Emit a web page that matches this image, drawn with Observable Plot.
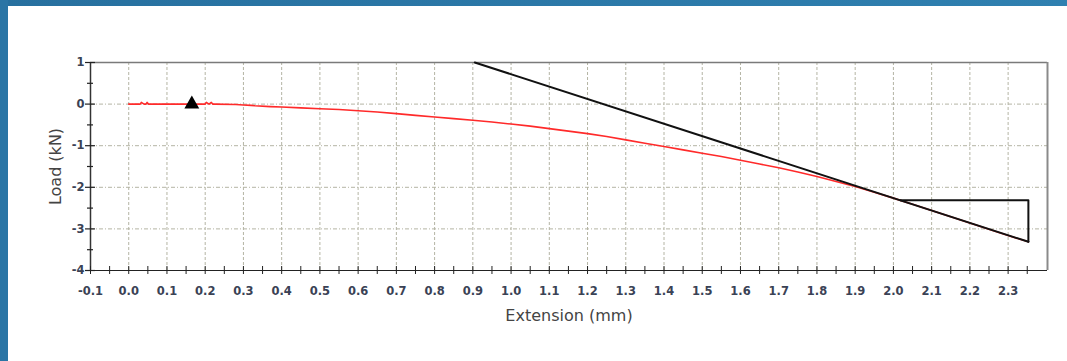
<!DOCTYPE html>
<html>
<head>
<meta charset="utf-8">
<script src="https://cdn.jsdelivr.net/npm/d3@7"></script>
<script src="https://cdn.jsdelivr.net/npm/@observablehq/plot@0.6"></script>
<style>
  html, body { margin: 0; padding: 0; background: #fff; }
  #wrap { position: relative; width: 1067px; height: 361px; overflow: hidden; background: #fff; }
  #topbar { position: absolute; left: 0; top: 0; width: 1067px; height: 6px; background: linear-gradient(90deg, #27709f, #2f80b0); }
  #leftbar { position: absolute; left: 0; top: 0; width: 8px; height: 361px; background: #2a75a5; }
  #chart { position: absolute; left: 0; top: 0; }
</style>
</head>
<body>
<div id="wrap">
  <div id="chart"></div>
  <div id="topbar"></div>
  <div id="leftbar"></div>
</div>
<script>
// Measured curve: extension (mm) vs load (kN)
const extension = [0, 0.03, 0.033, 0.04, 0.045, 0.048, 0.052, 0.1, 0.15, 0.2, 0.203, 0.21, 0.216, 0.22, 0.225, 0.28, 0.3, 0.32, 0.33, 0.37, 0.4, 0.45, 0.5, 0.55, 0.6, 0.65, 0.7, 0.75, 0.8, 0.85, 0.9, 0.95, 1.0, 1.05, 1.1, 1.15, 1.2, 1.25, 1.3, 1.35, 1.4, 1.45, 1.5, 1.55, 1.6, 1.65, 1.7, 1.75, 1.8, 1.85, 1.9, 1.95, 2.0, 2.05, 2.1, 2.15, 2.2, 2.25, 2.3, 2.353];
const load = [0, 0, 0.04, 0, 0, 0.04, 0, 0, 0, 0, 0.04, 0, 0.04, 0, 0, -0.01, -0.02, -0.03, -0.04, -0.06, -0.07, -0.09, -0.11, -0.13, -0.16, -0.19, -0.23, -0.27, -0.31, -0.35, -0.39, -0.43, -0.48, -0.53, -0.59, -0.65, -0.71, -0.78, -0.86, -0.94, -1.02, -1.10, -1.18, -1.26, -1.35, -1.44, -1.53, -1.63, -1.74, -1.86, -1.98, -2.12, -2.26, -2.41, -2.56, -2.71, -2.86, -3.01, -3.16, -3.31];

// Fitted tangent line and slope triangle
const tangentX = [0.905, 2.353];
const tangentY = [1, -3.31];
const triangleX = [2.018, 2.353, 2.353];
const triangleY = [-2.31, -2.31, -3.31];

// Marker
const markerX = [0.165];
const markerY = [0];

// Axis ticks
const xLabels = [-0.1, 0.0, 0.1, 0.2, 0.3, 0.4, 0.5, 0.6, 0.7, 0.8, 0.9, 1.0, 1.1, 1.2, 1.3, 1.4, 1.5, 1.6, 1.7, 1.8, 1.9, 2.0, 2.1, 2.2, 2.3];
const xMinor = [-0.05, 0.05, 0.15, 0.25, 0.35, 0.45, 0.55, 0.65, 0.75, 0.85, 0.95, 1.05, 1.15, 1.25, 1.35, 1.45, 1.55, 1.65, 1.75, 1.85, 1.95, 2.05, 2.15, 2.25, 2.35];
const yLabels = [-4, -3, -2, -1, 0, 1];
const yMinor = [-3.5, -2.5, -1.5, -0.5, 0.5];
const xDomain = [-0.1, 2.403];
const yDomain = [-4, 1];

const curve = extension.map((e, i) => ({x: e, y: load[i]}));
const tangent = tangentX.map((e, i) => ({x: e, y: tangentY[i]}));
const tri = triangleX.map((e, i) => ({x: e, y: triangleY[i]}));
const marker = markerX.map((e, i) => ({x: e, y: markerY[i]}));

const gridColor = "#b4b4a4";
const labelColor = "#3a4255";

const chart = Plot.plot({
  width: 1067,
  height: 361,
  marginLeft: 90,
  marginRight: 20,
  marginTop: 62,
  marginBottom: 91,
  style: {fontFamily: "DejaVu Sans, Verdana, sans-serif", background: "transparent"},
  x: {domain: xDomain, axis: null},
  y: {domain: yDomain, axis: null},
  marks: [
    // grid
    Plot.ruleX(xLabels.slice(1), {stroke: gridColor, strokeDasharray: "3,2", strokeWidth: 1}),
    Plot.ruleY([-3, -2, -1, 0], {stroke: gridColor, strokeDasharray: "4,2,1,2", strokeWidth: 1}),
    // frame
    Plot.ruleY([1], {stroke: "#7a7a7a", strokeWidth: 1.5}),
    Plot.ruleX([xDomain[1]], {stroke: "#8a8a8a", strokeWidth: 2}),
    Plot.ruleY([-4], {stroke: "#222", strokeWidth: 1.2}),
    Plot.ruleX([-0.1], {stroke: "#333", strokeWidth: 1.5}),
    // tick marks crossing the axes
    Plot.ruleX(xLabels.concat(xMinor), {x: d => d, y1: -4, y2: -4, insetTop: -4, insetBottom: -4, stroke: "#222", strokeWidth: 1}),
    Plot.ruleY(yLabels, {y: d => d, x1: -0.1, x2: -0.1, insetLeft: -5, insetRight: -5, stroke: "#222", strokeWidth: 1.2}),
    Plot.ruleY(yMinor, {y: d => d, x1: -0.1, x2: -0.1, insetLeft: -3, insetRight: -3, stroke: "#222", strokeWidth: 1.2}),
    // tick labels
    Plot.text(xLabels, {x: d => d, y: yDomain[0], dy: 21, text: d => d.toFixed(1), fontSize: 11.5, fontWeight: "bold", fill: labelColor, lineAnchor: "middle"}),
    Plot.text(yLabels, {x: xDomain[0], y: d => d, dx: -6, text: d => String(d), textAnchor: "end", fontSize: 11.5, fontWeight: "bold", fill: labelColor, lineAnchor: "middle"}),
    // data
    Plot.line(curve, {x: "x", y: "y", stroke: "#ff2a2a", strokeWidth: 1.6}),
    Plot.line(tangent, {x: "x", y: "y", stroke: "#111", strokeWidth: 2}),
    Plot.line(tri, {x: "x", y: "y", stroke: "#111", strokeWidth: 2}),
    Plot.dot(marker, {x: "x", y: "y", symbol: "triangle", r: 5.5, fill: "#000", stroke: "none"}),
    // axis titles
    Plot.text(["Extension (mm)"], {frameAnchor: "bottom", dy: 45, text: d => d, fontSize: 16, fill: "#444", textAnchor: "middle", lineAnchor: "middle"}),
    Plot.text(["Load (kN)"], {frameAnchor: "left", dx: -35, rotate: -90, text: d => d, fontSize: 16, fill: "#444", textAnchor: "middle", lineAnchor: "middle"})
  ]
});
document.getElementById("chart").appendChild(chart);
</script>
</body>
</html>
